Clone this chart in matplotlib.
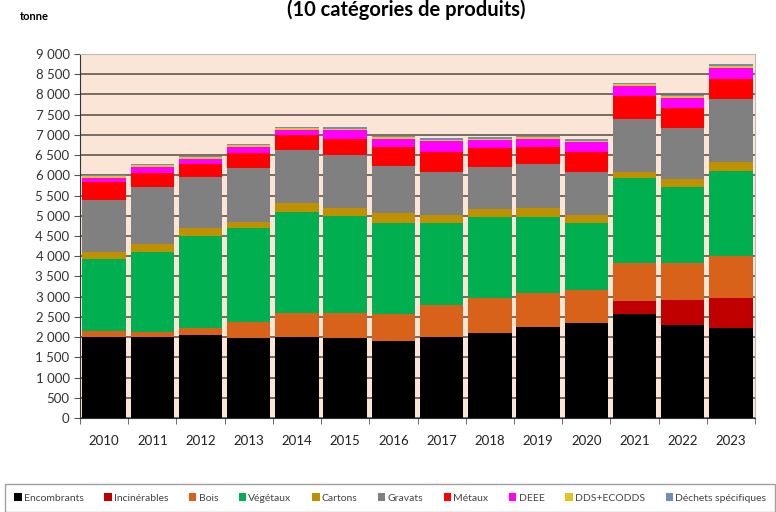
import matplotlib.pyplot as plt
import numpy as np

plt.rcParams['font.family'] = ['Lato', 'DejaVu Sans']

annees = ['2010', '2011', '2012', '2013', '2014', '2015', '2016',
          '2017', '2018', '2019', '2020', '2021', '2022', '2023']

encombrants = np.array([2010, 2000, 2050, 1970, 2010, 1970, 1910, 2010, 2110, 2260, 2360, 2570, 2300, 2220])
incinerables = np.array([0, 0, 0, 0, 0, 0, 0, 0, 0, 0, 0, 330, 620, 740])
bois = np.array([130, 130, 170, 410, 595, 635, 660, 785, 850, 840, 805, 925, 905, 1045])
vegetaux = np.array([1790, 1980, 2270, 2310, 2495, 2390, 2260, 2035, 2020, 1880, 1665, 2100, 1880, 2100])
cartons = np.array([165, 200, 200, 165, 205, 190, 230, 190, 180, 205, 190, 165, 200, 230])
gravats = np.array([1300, 1390, 1280, 1320, 1320, 1320, 1170, 1070, 1055, 1095, 1070, 1295, 1260, 1545])
metaux = np.array([450, 360, 310, 370, 370, 390, 460, 495, 455, 415, 495, 565, 495, 495])
deee = np.array([100, 150, 130, 150, 130, 215, 210, 260, 200, 210, 235, 260, 255, 280])
dds = np.array([35, 40, 40, 45, 45, 45, 40, 40, 40, 40, 40, 50, 45, 60])
dechets_spec = np.array([25, 30, 28, 27, 30, 30, 30, 30, 30, 30, 30, 30, 30, 35])

series = [
    ('Encombrants', encombrants, '#000000'),
    ('Incinérables', incinerables, '#C00000'),
    ('Bois', bois, '#D9621A'),
    ('Végétaux', vegetaux, '#00B050'),
    ('Cartons', cartons, '#BF9000'),
    ('Gravats', gravats, '#808080'),
    ('Métaux', metaux, '#FF0000'),
    ('DEEE', deee, '#FF00FF'),
    ('DDS+ECODDS', dds, '#E6C21E'),
    ('Déchets spécifiques', dechets_spec, '#6F8FB8'),
]

fig = plt.figure(figsize=(7.76, 5.12), dpi=100)
ax = fig.add_axes([80 / 776, 1 - 418 / 512, 675 / 776, 364 / 512])
ax.set_facecolor('#FBE5D6')

x = np.arange(len(annees))
bas = np.zeros(len(annees))
for nom, valeurs, couleur in series:
    ax.bar(x, valeurs, 0.9, bottom=bas, label=nom, color=couleur, zorder=3)
    bas = bas + valeurs

ax.set_ylim(0, 9000)
ax.set_xlim(-0.5, len(annees) - 0.5)
ax.set_yticks(np.arange(0, 9001, 500))
ax.set_yticklabels([f'{v:,}'.replace(',', ' ') for v in range(0, 9001, 500)])
ax.set_xticks(x, annees)
ax.set_xticks(np.arange(-0.5, len(annees), 1), minor=True)
ax.tick_params(axis='x', which='major', length=0, labelsize=9.5, pad=12, colors='#222222')
ax.tick_params(axis='x', which='minor', length=4, color='#555555')
ax.tick_params(axis='y', labelsize=9.5, length=4, color='#555555', colors='#333333')
ax.grid(axis='y', color='#6E625A', linewidth=1.3, zorder=1)

for side in ['top', 'right']:
    ax.spines[side].set_color('#BBBBBB')
ax.spines['left'].set_color('#333333')
ax.spines['bottom'].set_color('#333333')

fig.text(406 / 776, 1 - 16 / 512, '(10 catégories de produits)', ha='center',
         va='baseline', fontsize=14.5, fontweight='bold')
fig.text(20 / 776, 1 - 20 / 512, 'tonne', ha='left', va='baseline',
         fontsize=8, fontweight='bold')

leg = fig.legend(loc='upper left', bbox_to_anchor=(5 / 776, 1 - 484 / 512), ncol=10,
                 fontsize=7.5, frameon=True, fancybox=False, edgecolor='#888888',
                 handlelength=0.7, handleheight=0.7, handletextpad=0.2,
                 columnspacing=2.0, borderpad=0.9, borderaxespad=0)
leg.get_frame().set_linewidth(1.0)
for t in leg.get_texts():
    t.set_color('#444444')

fig.savefig('out.png', dpi=100)
